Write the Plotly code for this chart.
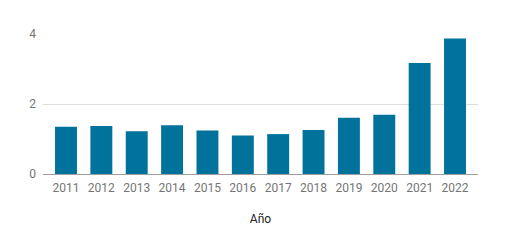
import plotly.graph_objects as go

years = ["2011", "2012", "2013", "2014", "2015", "2016", "2017", "2018", "2019", "2020", "2021", "2022"]
values = [1.35, 1.37, 1.22, 1.39, 1.24, 1.10, 1.14, 1.26, 1.61, 1.69, 3.17, 3.87]
y_ticks = [0, 2, 4]

fig = go.Figure(go.Bar(x=years, y=values, marker=dict(color="#01729b", line=dict(width=0)), width=0.62))

fig.update_layout(
    width=513, height=235,
    margin=dict(l=35, r=43, t=26, b=69, autoexpand=False),
    paper_bgcolor="white", plot_bgcolor="white",
    font=dict(family="Roboto", size=12, color="#757575"),
    showlegend=False,
)
fig.update_xaxes(
    type="category", range=[-0.65, 11.65],
    showgrid=False, showline=True, linecolor="#9e9e9e", linewidth=1,
    ticks="", tickfont=dict(size=12, color="#757575"), ticklabelstandoff=3,
    title=dict(text="Año", font=dict(size=12, color="#222222"), standoff=20),
)
fig.update_yaxes(
    range=[0, 4], tickvals=y_ticks, ticktext=[str(t) for t in y_ticks],
    showgrid=True, gridcolor="#dddddd", gridwidth=1,
    zeroline=False, showline=False, ticks="",
    tickfont=dict(size=12, color="#757575"), ticklabelstandoff=6,
)
fig.write_html("out.html")
